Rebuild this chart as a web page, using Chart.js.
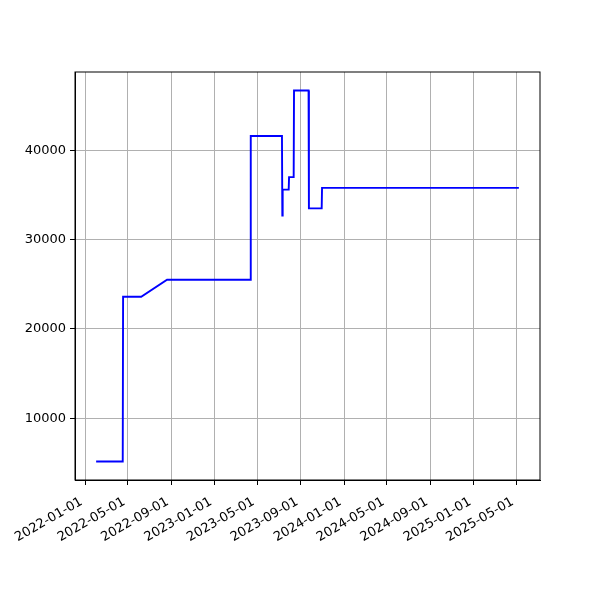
<!DOCTYPE html>
<html lang="en">
<head>
    <meta charset="UTF-8">
    <title>Value over time</title>
    <script src="https://cdn.jsdelivr.net/npm/chart.js"></script>
    <style>
        html, body { margin: 0; padding: 0; background: #fff; }
        .chart-container { position: relative; width: 600px; height: 600px; }
    </style>
</head>
<body>
    <div class="chart-container">
        <canvas id="valueChart" width="600" height="600"></canvas>
    </div>

    <script>
        // dates where the series changes, and the value at each one
        const dates = ['2022-02-01', '2022-04-17', '2022-04-18', '2022-06-08', '2022-08-20',
                       '2023-04-12', '2023-04-13', '2023-07-10', '2023-07-11', '2023-07-12',
                       '2023-07-29', '2023-07-30', '2023-08-12', '2023-08-13', '2023-09-23',
                       '2023-09-24', '2023-10-30', '2023-10-31', '2025-05-08'];
        const values = [5150, 5150, 23600, 23600, 25500,
                        25500, 41600, 41600, 32700, 35600,
                        35600, 37000, 37000, 46700, 46700,
                        33500, 33500, 35800, 35800];

        const xTickDates = ['2022-01-01', '2022-05-01', '2022-09-01', '2023-01-01', '2023-05-01', '2023-09-01',
                            '2024-01-01', '2024-05-01', '2024-09-01', '2025-01-01', '2025-05-01'];
        const yTicks = [10000, 20000, 30000, 40000];

        const DAY = 86400000;
        const toDay = s => Date.parse(s + 'T00:00:00Z') / DAY;
        // trailing space nudges the rotated label off the tick like matplotlib does
        const fmtDay = d => new Date(Math.round(d) * DAY).toISOString().slice(0, 10) + ' ';

        const points = dates.map((d, i) => ({ x: toDay(d), y: values[i] }));

        // matplotlib style 5% margins
        const xs = points.map(p => p.x), ys = points.map(p => p.y);
        const xSpan = Math.max(...xs) - Math.min(...xs);
        const ySpan = Math.max(...ys) - Math.min(...ys);

        const frame = {
            id: 'frame',
            afterDatasetsDraw(chart) {
                const { ctx, chartArea: a } = chart;
                ctx.save();
                ctx.strokeStyle = '#000';
                ctx.lineWidth = 1;
                ctx.strokeRect(a.left, a.top, a.right - a.left, a.bottom - a.top);
                ctx.restore();
            }
        };

        const font = { family: 'DejaVu Sans', size: 13 };

        new Chart(document.getElementById('valueChart').getContext('2d'), {
            type: 'line',
            data: {
                datasets: [{
                    data: points,
                    borderColor: '#0000ff',
                    borderWidth: 1.9,
                    pointRadius: 0,
                    fill: false,
                    tension: 0
                }]
            },
            options: {
                responsive: false,
                animation: false,
                layout: { padding: { top: 72, right: 60, left: 0, bottom: 0 } },
                plugins: { legend: { display: false }, tooltip: { enabled: false } },
                scales: {
                    x: {
                        type: 'linear',
                        min: Math.min(...xs) - 0.05 * xSpan,
                        max: Math.max(...xs) + 0.05 * xSpan,
                        afterBuildTicks: s => { s.ticks = xTickDates.map(d => ({ value: toDay(d) })); },
                        afterFit: s => { s.height = 120; },
                        ticks: {
                            callback: v => fmtDay(v),
                            maxRotation: 30,
                            minRotation: 30,
                            color: '#000',
                            font: font,
                            padding: 7,
                            autoSkip: false
                        },
                        grid: { color: '#b0b0b0', tickColor: '#000', tickLength: 5, lineWidth: 1 },
                        border: { color: '#000' }
                    },
                    y: {
                        type: 'linear',
                        min: Math.min(...ys) - 0.05 * ySpan,
                        max: Math.max(...ys) + 0.05 * ySpan,
                        afterBuildTicks: s => { s.ticks = yTicks.map(v => ({ value: v })); },
                        afterFit: s => { s.width = 75; },
                        ticks: {
                            callback: v => String(v),
                            color: '#000',
                            font: font,
                            padding: 4
                        },
                        grid: { color: '#b0b0b0', tickColor: '#000', tickLength: 5, lineWidth: 1 },
                        border: { color: '#000' }
                    }
                }
            },
            plugins: [frame]
        });
    </script>
</body>
</html>
